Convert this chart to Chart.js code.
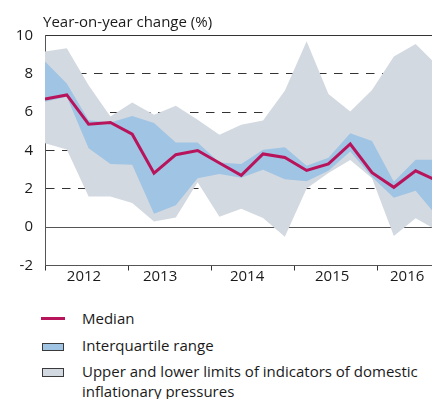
<!DOCTYPE html>
<html>
<head>
<meta charset="utf-8">
<script src="https://cdn.jsdelivr.net/npm/chart.js@4/dist/chart.umd.min.js"></script>
<style>
  html, body { margin: 0; padding: 0; background: #fff; overflow: hidden; }
  body { width: 432px; height: 399px; position: relative; font-family: "Open Sans", sans-serif; color: #1a1a1a; }
  #wrap { position: absolute; left: 0; top: 0; width: 432px; height: 290px; }
  .lg-line { position: absolute; left: 41px; width: 24px; height: 3px; background: #b8145c; }
  .lg-box { position: absolute; left: 42px; width: 22px; box-sizing: border-box; border: 1px solid #3a3a3a; }
  .lg-text { position: absolute; left: 82px; font-size: 15px; line-height: 20px; white-space: nowrap; }
</style>
</head>
<body>
<div id="wrap"><canvas id="c" width="432" height="290"></canvas></div>

<div class="lg-line" style="top:317px"></div>
<div class="lg-text" style="top:308px">Median</div>
<div class="lg-box" style="top:343px;height:8px;background:#a0c4e4"></div>
<div class="lg-text" style="top:335px">Interquartile range</div>
<div class="lg-box" style="top:368px;height:9px;background:#d3d9e1"></div>
<div class="lg-text" style="top:361px">Upper and lower limits of indicators of domestic<br>inflationary pressures</div>

<script>
// Quarterly observations, first quarter of 2012 onwards (index = quarter number)
const yearLabels = ['2012', '2013', '2014', '2015', '2016'];
const median    = [6.68, 6.90, 5.37, 5.46, 4.85, 2.82, 3.78, 4.00, 3.35, 2.70, 3.82, 3.64, 2.96, 3.30, 4.34, 2.84, 2.08, 2.94, 2.42];
const iqrHigh   = [8.64, 7.50, 5.58, 5.46, 5.80, 5.43, 4.42, 4.42, 3.38, 3.30, 4.04, 4.17, 3.21, 3.62, 4.90, 4.50, 2.37, 3.52, 3.52];
const iqrLow    = [6.55, 6.80, 4.12, 3.29, 3.26, 0.70, 1.14, 2.55, 2.77, 2.58, 3.00, 2.50, 2.39, 2.95, 3.95, 2.62, 1.54, 1.90, 0.55];
const rangeHigh = [9.16, 9.33, 7.40, 5.77, 6.50, 5.86, 6.33, 5.60, 4.82, 5.34, 5.56, 7.12, 9.70, 6.95, 6.03, 7.16, 8.90, 9.56, 8.42];
const rangeLow  = [4.38, 4.05, 1.60, 1.60, 1.26, 0.30, 0.50, 2.35, 0.55, 0.96, 0.48, -0.50, 2.02, 2.82, 3.50, 2.55, -0.46, 0.46, -0.17];

// Axis layout in quarter units: where each year starts and where its label sits
const yearStarts = [0, 3.82, 7.65, 11.44, 15.24];
const yearLabelAt = [1.79, 5.28, 9.27, 13.17, 16.61];

const pts = arr => arr.map((v, i) => ({ x: i, y: v }));

const COL_MEDIAN = '#b8145c';
const COL_IQR = '#a0c4e4';
const COL_RANGE = '#d3d9e1';

const titlePlugin = {
  id: 'unitTitle',
  afterDraw(chart) {
    const ctx = chart.ctx;
    ctx.save();
    ctx.font = '15px "Open Sans", sans-serif';
    ctx.fillStyle = '#1a1a1a';
    ctx.textAlign = 'left';
    ctx.textBaseline = 'alphabetic';
    ctx.fillText('Year-on-year change (%)', 43, 27);
    ctx.restore();
  }
};

new Chart(document.getElementById('c'), {
  type: 'line',
  data: {
    datasets: [
      { label: 'Median', data: pts(median), borderColor: COL_MEDIAN, borderWidth: 3,
        pointRadius: 0, fill: false, tension: 0 },
      { label: 'Interquartile range', data: pts(iqrHigh), borderWidth: 0, borderColor: 'transparent',
        backgroundColor: COL_IQR, pointRadius: 0, fill: '+1', tension: 0 },
      { label: 'iqr-low', data: pts(iqrLow), borderWidth: 0, borderColor: 'transparent',
        pointRadius: 0, fill: false, tension: 0 },
      { label: 'Upper and lower limits', data: pts(rangeHigh), borderWidth: 0, borderColor: 'transparent',
        backgroundColor: COL_RANGE, pointRadius: 0, fill: '+1', tension: 0 },
      { label: 'range-low', data: pts(rangeLow), borderWidth: 0, borderColor: 'transparent',
        pointRadius: 0, fill: false, tension: 0 }
    ]
  },
  options: {
    responsive: false,
    animation: false,
    devicePixelRatio: 1,
    layout: { padding: { top: 35.5, right: 0, bottom: 0, left: 0 } },
    plugins: { legend: { display: false }, tooltip: { enabled: false } },
    scales: {
      x: {
        type: 'linear',
        min: 0,
        max: 17.75,
        afterFit(scale) { scale.height = 24.5; },
        afterBuildTicks(scale) {
          scale.ticks = yearStarts.concat(yearLabelAt).map(v => ({ value: v }));
        },
        grid: {
          display: true,
          drawOnChartArea: false,
          drawTicks: true,
          tickLength: 5,
          tickColor: ctx => (ctx.tick && yearStarts.includes(ctx.tick.value)) ? '#333' : 'transparent',
          tickWidth: 1
        },
        border: { display: true, color: '#555', width: 1 },
        ticks: {
          autoSkip: false,
          maxRotation: 0,
          padding: -1,
          color: '#1a1a1a',
          font: { family: '"Open Sans", sans-serif', size: 15, lineHeight: 1 },
          callback: value => {
            const k = yearLabelAt.indexOf(value);
            return k >= 0 ? yearLabels[k] : '';
          }
        }
      },
      y: {
        min: -2,
        max: 10,
        afterFit(scale) { scale.width = 45; },
        grid: {
          drawTicks: false,
          lineWidth: 1,
          color: ctx => {
            const v = ctx.tick ? ctx.tick.value : null;
            if (v === -2) return 'transparent';
            if (v === 0) return '#555';
            return '#333';
          }
        },
        border: {
          display: true,
          color: '#555',
          width: 1,
          dash: ctx => (ctx.tick && (ctx.tick.value === 0 || ctx.tick.value === 10)) ? [] : [8.5, 7.5]
        },
        ticks: {
          stepSize: 2,
          padding: 12,
          color: '#1a1a1a',
          font: { family: '"Open Sans", sans-serif', size: 15 }
        }
      }
    }
  },
  plugins: [titlePlugin]
});
</script>
</body>
</html>
